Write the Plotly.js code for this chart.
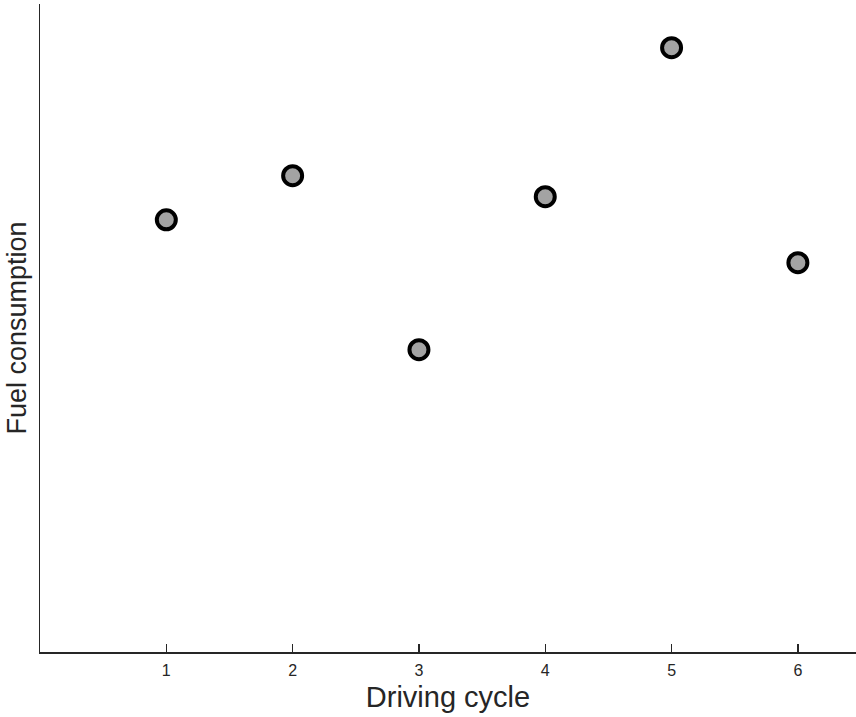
<!DOCTYPE html>
<html>
<head>
<meta charset="utf-8">
<script src="https://cdn.plot.ly/plotly-3.0.1.min.js"></script>
<style>html,body{margin:0;padding:0;background:#fff;}#chart{width:856px;height:717px;}</style>
</head>
<body>
<div id="chart"></div>
<script>
// Data (y in arbitrary units; original axis has no tick labels)
const drivingCycle = [1, 2, 3, 4, 5, 6];
const fuelConsumption = [0.667, 0.735, 0.4665, 0.7026, 0.9326, 0.6008];
const xTickVals = [1, 2, 3, 4, 5, 6];
const xTickText = ['1', '2', '3', '4', '5', '6'];

const trace = {
  x: drivingCycle,
  y: fuelConsumption,
  type: 'scatter',
  mode: 'markers',
  marker: {size: 19, color: '#a3a3a3', line: {color: '#000000', width: 4}},
  hoverinfo: 'x+y',
  cliponaxis: false
};

const layout = {
  width: 856, height: 717,
  margin: {l: 40, r: 0, t: 4, b: 65, pad: 0},
  paper_bgcolor: '#ffffff', plot_bgcolor: '#ffffff',
  font: {family: 'Liberation Sans, Arial, sans-serif', color: '#262626'},
  showlegend: false,
  xaxis: {
    range: [0, 6.46], showgrid: false, zeroline: false,
    showline: true, linecolor: '#262626', linewidth: 1.5,
    ticks: 'inside', ticklen: 8, tickwidth: 1.5, tickcolor: '#262626',
    tickvals: xTickVals, ticktext: xTickText,
    tickfont: {size: 16, color: '#262626'},
    ticklabelstandoff: 3,
    title: {text: 'Driving cycle', font: {size: 29, color: '#262626'}, standoff: 9},
    automargin: false
  },
  yaxis: {
    range: [0, 1], showgrid: false, zeroline: false,
    showline: true, linecolor: '#262626', linewidth: 1.5,
    ticks: '', showticklabels: false,
    title: {text: 'Fuel consumption', font: {size: 27, color: '#262626'}, standoff: 4},
    automargin: false
  }
};

Plotly.newPlot('chart', [trace], layout, {displayModeBar: false, staticPlot: true});
</script>
</body>
</html>
